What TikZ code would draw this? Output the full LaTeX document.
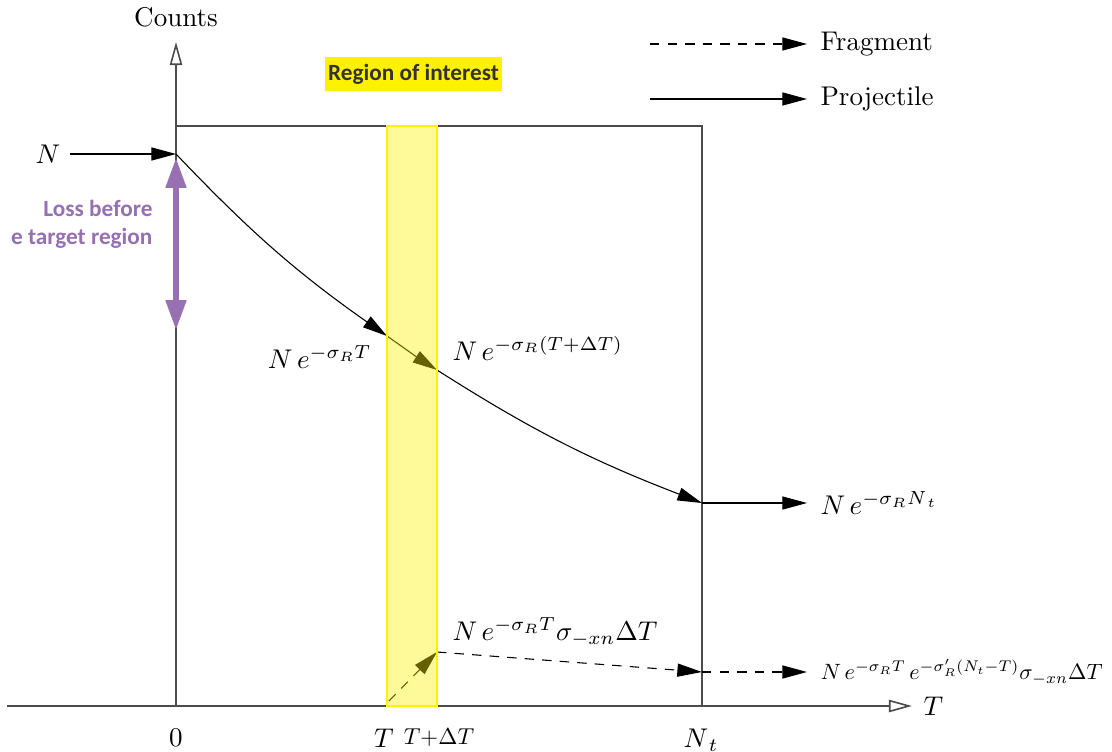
\documentclass[tikz,border=0pt]{standalone}
\usepackage{fontspec}
\newfontfamily\calibrifont{Carlito}
\usetikzlibrary{arrows.meta}

\begin{document}
\begin{tikzpicture}[x=1.3cm,y=1.3cm,
    proj/.style={black, line width=0.4pt, -{Triangle[length=3.2mm,width=1.7mm]}},
    frag/.style={proj, dash pattern=on 3.5pt off 3pt},
    axisline/.style={draw=black!70, line width=0.6pt},
    axisarrow/.style={axisline, -{Triangle[open,length=3mm,width=1.6mm]}},
    boldlabel/.style={font=\calibrifont\bfseries\fontsize{8.6}{10.3}\selectfont}]
        % Colours of the highlighted parts
        \definecolor{loss}{RGB}{150,112,176}
        \definecolor{roitext}{RGB}{51,51,51}

        \useasboundingbox (-1.76,-0.45) rectangle (9.36,7.06);

        % Target box and region of interest
        \def\boxw{5.26}
        \def\boxh{5.80}
        \def\bandl{2.11}
        \def\bandr{2.61}

        % Axes
        \coordinate (origin) at (0,0);
        \coordinate (xstart) at (-1.69,0);
        \coordinate (xend) at (7.36,0);
        \coordinate (yend) at (0,6.64);
        \draw[axisarrow] (xstart) -- (xend);
        \draw[axisarrow] (origin) -- (yend);
        \node (tlabel) [right] at (7.38,0) {$T$};
        \node (counts) at (0,6.89) {Counts};

        % Target box
        \draw[axisline] (origin) rectangle (\boxw,\boxh);

        % Tick labels
        \node (zero) at (0,-0.32) {0};
        \node (tickT) at (2.08,-0.32) {$T$};
        \node (tickdT) [scale=0.85, transform shape] at (2.63,-0.32) {$T{+}\Delta T$};
        \node (tickNt) at (5.25,-0.34) {$N_{\,t}$};

        % Projectile
        \node (Nin) at (-1.28,5.52) {$N$};
        \coordinate (N0) at (0,5.52);
        \coordinate (NT) at (\bandl,3.70);
        \coordinate (NdT) at (\bandr,3.36);
        \coordinate (Nt) at (\boxw,2.03);
        \coordinate (Ntout) at (6.31,2.03);
        \draw[proj] (Nin) -- (N0);
        \draw[proj] (N0) to[out=-46.4,in=144.9] (NT);
        \draw[proj] (NT) to[out=-35.1,in=147.5] (NdT);
        \draw[proj] (NdT) to[out=-32.5,in=158.9] (Nt);
        \draw[proj] (Nt) -- (Ntout);
        \node (labNT) [left] at (2.05,3.49) {$N\,e^{-\sigma_R T}$};
        \node (labNdT) [right] at (2.67,3.58) {$N\,e^{-\sigma_R (T{+}\Delta T)}$};
        \node (labNt) [right] at (6.35,2.03) {$N\,e^{-\sigma_R N_{\,t}}$};

        % Fragment
        \coordinate (FT) at (2.13,0.05);
        \coordinate (FdT) at (\bandr,0.54);
        \coordinate (FNt) at (\boxw,0.34);
        \coordinate (FNtout) at (6.31,0.34);
        \draw[frag] (FT) -- (FdT);
        \draw[frag] (FdT) -- (FNt);
        \draw[frag] (FNt) -- (FNtout);
        \node (labFdT) [right] at (2.67,0.74) {$N\,e^{-\sigma_R T}\sigma_{-xn}\Delta T$};
        \node (labFNt) [right, scale=0.82, transform shape] at (6.37,0.34) {$N\,e^{-\sigma_R T}\,e^{-\sigma'_R (N_t{-}T)}\sigma_{-xn}\Delta T$};

        % Region of interest band
        \fill[yellow, fill opacity=0.4] (\bandl,0) rectangle (\bandr,\boxh);
        \draw[yellow, line width=1.1pt] (\bandl,0) rectangle (\bandr,\boxh);
        \node (roi) [boldlabel, fill=yellow, text=roitext, inner xsep=1pt, inner ysep=2.5pt] at (2.375,6.32) {Region of interest};

        % Loss before the target
        \coordinate (losstop) at (0,5.48);
        \coordinate (lossbot) at (0,3.76);
        \draw[loss, line width=1.9pt, {Triangle[length=3.9mm,width=2.6mm]}-{Triangle[length=3.9mm,width=2.6mm]}] (losstop) -- (lossbot);
        \node (losslabel) [boldlabel, left, align=right, text=loss] at (-0.14,4.82) {Loss before\\e target region};

        % Legend
        \coordinate (fragstart) at (4.74,6.62);
        \coordinate (fragend) at (6.31,6.62);
        \coordinate (projstart) at (4.74,6.07);
        \coordinate (projend) at (6.31,6.07);
        \draw[frag] (fragstart) -- (fragend);
        \draw[proj] (projstart) -- (projend);
        \node (fraglabel) [right] at (6.35,6.62) {Fragment};
        \node (projlabel) [right] at (6.35,6.07) {Projectile};
\end{tikzpicture}
\end{document}
